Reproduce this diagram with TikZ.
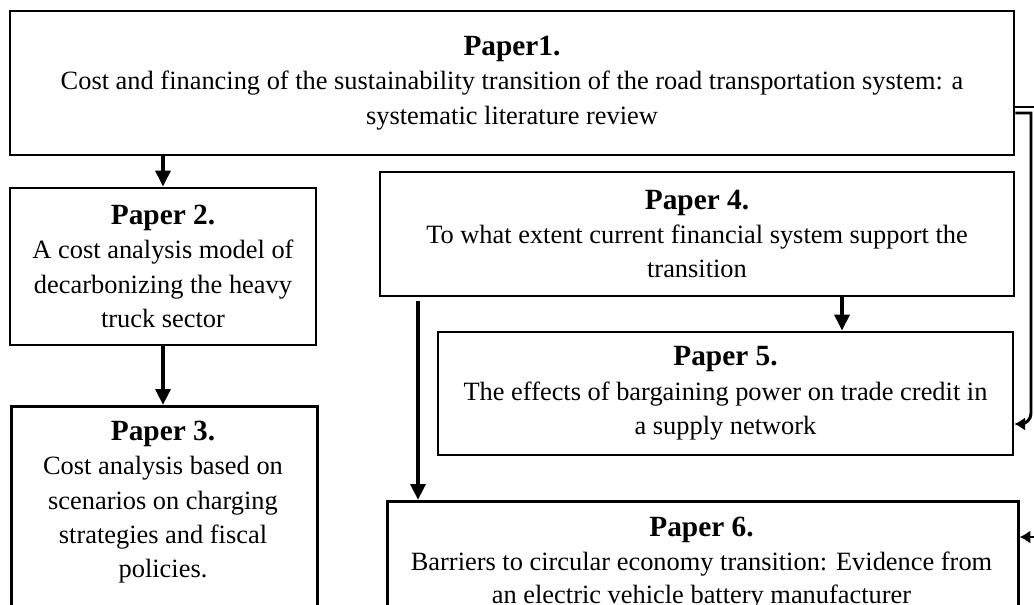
\documentclass[tikz,border=0pt]{standalone}
\usepackage{fontspec}
\setmainfont{Liberation Serif}
\usetikzlibrary{positioning,arrows.meta}

\newcommand{\bodysize}{\fontsize{19.8}{25.7}\selectfont}
\newcommand{\headsize}{\fontsize{22}{25.7}\selectfont\bfseries}

\begin{document}
\begin{tikzpicture}[x=0.75pt,y=-0.75pt,
  paper/.style={draw,line width=2pt,align=center,font=\bodysize,inner sep=0pt},
  ptext/.style={align=center,font=\bodysize,inner sep=0pt},
  flow/.style={line width=3pt,-{Triangle[length=12pt,width=11pt]}},
  side/.style={line width=2.2pt,-{Latex[length=8pt,width=10pt]}}]
\useasboundingbox (0,0) rectangle (1034,604);
\clip (0,0) rectangle (1034,604);
% overview paper on top, thesis strand on the left, finance strand on the right
\node[paper,minimum width=753pt,minimum height=108pt] (p1) at (512,83)
  {{\headsize Paper1.}\\
   Cost and financing of the sustainability transition of the road transportation system: a\\
   systematic literature review};
\node[paper,minimum width=229.5pt,minimum height=117.75pt] (p2) at (163,266.5)
  {{\headsize Paper 2.}\\ A cost analysis model of\\ decarbonizing the heavy\\ truck sector};
\node[paper,anchor=north west,minimum width=229.5pt,minimum height=180pt] (p3) at (10,405) {};
\node[ptext,anchor=north] (p3t) at (163,421)
  {{\headsize Paper 3.}\\ Cost analysis based on\\ scenarios on charging\\ strategies and fiscal\\ policies.};
\node[paper,minimum width=475.5pt,minimum height=93pt] (p4) at (697,234)
  {{\headsize Paper 4.}\\ To what extent current financial system support the\\ transition};
\node[paper,minimum width=431.25pt,minimum height=92.25pt] (p5) at (725.5,393.5)
  {{\headsize Paper 5.}\\ The effects of bargaining power on trade credit in\\ a supply network};
\node[paper,anchor=north west,minimum width=473.25pt,minimum height=180pt] (p6) at (386,500) {};
\node[ptext,anchor=north,font=\fontsize{19.8}{25}\selectfont] (p6t) at (701.5,517)
  {{\headsize Paper 6.}\\ Barriers to circular economy transition: Evidence from\\ an electric vehicle battery manufacturer};

% straight links
\coordinate (k45) at (842,0);
\coordinate (k46) at (418,0);
\draw[flow] (p1.south -| p2) -- (p2.north);
\draw[flow] (p2.south) -- (p3.north -| p2);
\draw[flow] (p4.south -| k45) -- (p5.north -| k45);
\draw[flow] ([yshift=-3pt]p4.south -| k46) -- (p6.north -| k46);

% links along the right margin
\coordinate (r5) at (1031,113);
\coordinate (r6) at (1046,107);
\coordinate (e5) at (0,424);
\coordinate (e6) at (0,537);
\draw[side] (p1.east |- r5) -- (r5) [rounded corners=8pt] -- (r5 |- e5) -- (p5.east |- e5);
\draw[side] (p1.east |- r6) -- (r6) -- (r6 |- e6) -- (p6.east |- e6);
\end{tikzpicture}
\end{document}
